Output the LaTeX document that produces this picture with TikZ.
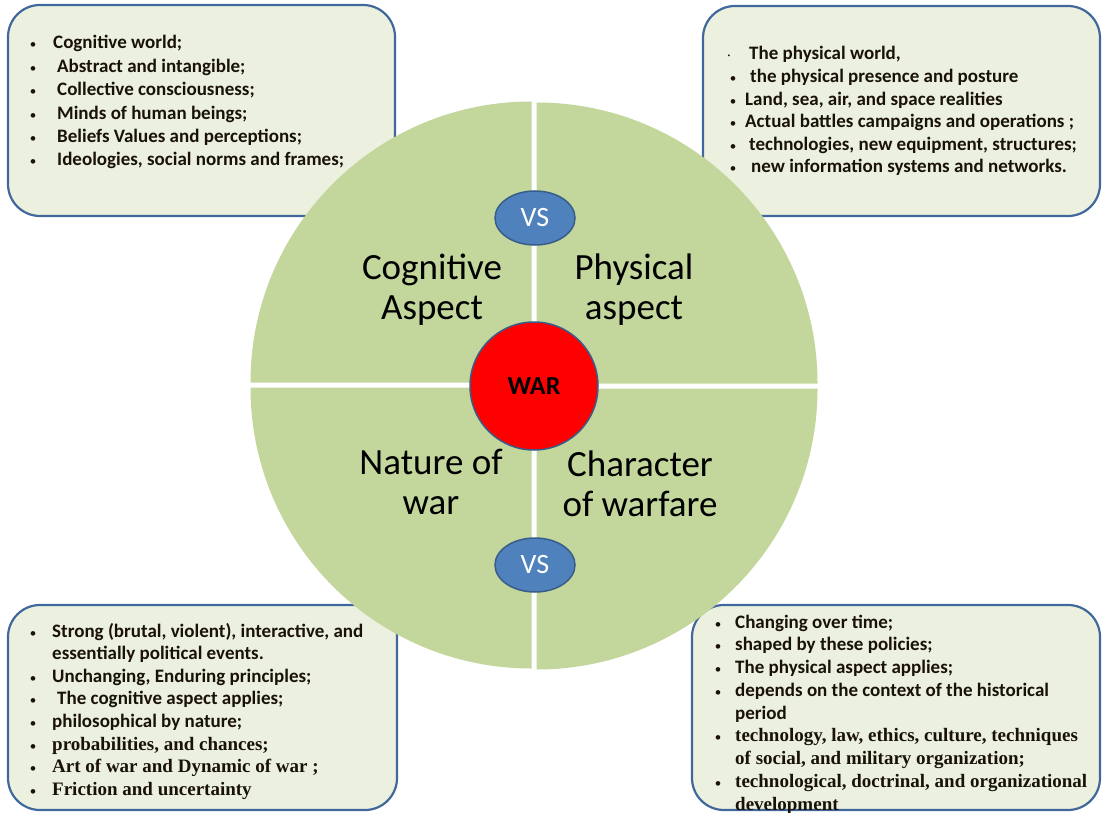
\documentclass[tikz,border=0pt]{standalone}
\usepackage{fontspec}
\setmainfont{Carlito}
\newfontfamily\tnr{Liberation Serif}
\usetikzlibrary{shapes.geometric}
\definecolor{quadgreen}{HTML}{C3D69B}
\definecolor{boxfill}{HTML}{EBF1DE}
\definecolor{boxline}{HTML}{41689C}
\definecolor{vsfill}{HTML}{4F81BD}
\definecolor{vsline}{HTML}{385D8A}
\definecolor{txt}{HTML}{1A1208}
\tikzset{
 infobox/.style={draw=boxline, fill=boxfill, line width=2.2, rounded corners=32},
 quad/.style={fill=quadgreen},
 itemtext/.style={anchor=base west, inner sep=0, text=txt, font=\fontsize{19}{22}\selectfont\bfseries},
 serifitem/.style={itemtext, font=\fontsize{19}{22}\selectfont\tnr\bfseries},
 bul/.style={anchor=base, inner sep=0, text=txt, font=\fontsize{13}{15}\selectfont},
 biglabel/.style={align=center, font=\fontsize{37}{40}\selectfont, text=black, inner sep=0},
 vsnode/.style={ellipse, draw=vsline, fill=vsfill, line width=1.5, minimum width=80, minimum height=54, inner sep=0, text=white, font=\fontsize{28}{30}\selectfont},
 warnode/.style={circle, draw=vsline, fill=red, line width=1.5, minimum size=128, inner sep=0, font=\fontsize{26}{28}\selectfont\bfseries},
}
\newcommand\itm[5]{\node[bul] (#1b) at (#2,#4) {\textbullet}; \node[itemtext] (#1) at (#3,#4) {#5};}
\newcommand\itmS[5]{\node[bul] (#1b) at (#2,#4) {\textbullet}; \node[serifitem] (#1) at (#3,#4) {#5};}
\begin{document}
\begin{tikzpicture}[x=1pt,y=-1pt]
\useasboundingbox[fill=white] (0,0) rectangle (1102,813);
% boxes
\draw[infobox] (8,5) rectangle (395,216);
\draw[infobox] (703,6) rectangle (1100,216);
\draw[infobox] (8,605) rectangle (397,810);
\draw[infobox] (692,605) rectangle (1100,810);
% top-left text
\itm{tla}{33}{53}{49}{Cognitive world;}
\itm{tlb}{33}{57}{72.4}{Abstract and intangible;}
\itm{tlc}{33}{57}{95.8}{Collective consciousness;}
\itm{tld}{33}{57}{119.2}{Minds of human beings;}
\itm{tle}{33}{57}{142.6}{Beliefs Values and perceptions;}
\itm{tlf}{33}{57}{166}{Ideologies, social norms and frames;}
% top-right text
\node[bul] (trab) at (729,60) {·};
\node[itemtext] (tra) at (749,60) {The physical world,};
\itm{trb}{733}{750}{82.6}{the physical presence and posture}
\itm{trc}{733}{745}{105.2}{Land, sea, air, and space realities}
\itm{trd}{733}{745}{127.8}{Actual battles campaigns and operations ;}
\itm{tre}{733}{749}{150.4}{technologies, new equipment, structures;}
\itm{trf}{733}{751}{173}{new information systems and networks.}
% bottom-left text
\itm{bla}{33}{52}{637}{Strong (brutal, violent), interactive, and}
\node[itemtext] (blb) at (52,659.6) {essentially political events.};
\itm{blc}{33}{52}{682.2}{Unchanging, Enduring principles;}
\itm{bld}{33}{57}{704.8}{The cognitive aspect applies;}
\itm{ble}{33}{52}{727.4}{philosophical by nature;}
\itmS{blf}{33}{52}{750}{probabilities, and chances;}
\itmS{blg}{33}{52}{772.6}{Art of war and Dynamic of war ;}
\itmS{blh}{33}{52}{795.2}{Friction and uncertainty}
% bottom-right text
\itm{bra}{718}{735}{628}{Changing over time;}
\itm{brb}{718}{735}{650.75}{shaped by these policies;}
\itm{brc}{718}{735}{673.5}{The physical aspect applies;}
\itm{brd}{718}{735}{696.25}{depends on the context of the historical}
\node[itemtext] (bre) at (735,719) {period};
\itmS{brf}{718}{735}{741.75}{technology, law, ethics, culture, techniques}
\node[serifitem] (brg) at (735,764.5) {of social, and military organization;};
\itmS{brh}{718}{735}{787.25}{technological, doctrinal, and organizational}
\node[serifitem] (bri) at (735,810) {development};
% quadrants
\fill[quad] (531.5,382.5) -- ++(180:281) arc[start angle=180,end angle=270,radius=281] -- cycle;
\fill[quad] (536.5,383.5) -- ++(270:281) arc[start angle=270,end angle=360,radius=281] -- cycle;
\fill[quad] (531.5,387.5) -- ++(90:281) arc[start angle=90,end angle=180,radius=281] -- cycle;
\fill[quad] (536.5,388.5) -- ++(0:281) arc[start angle=0,end angle=90,radius=281] -- cycle;
% labels
\node[biglabel] (cog) at (432,290) {Cognitive\\Aspect};
\node[biglabel] (phy) at (634,290) {Physical\\aspect};
\node[biglabel] (nat) at (431,482) {Nature of\\war};
\node[biglabel] (cha) at (640,484) {Character\\of warfare};
\node[vsnode] (vs1) at (535,218) {VS};
\node[vsnode] (vs2) at (535,565) {VS};
\node[warnode] (war) at (534,386) {WAR};
\end{tikzpicture}
\end{document}
